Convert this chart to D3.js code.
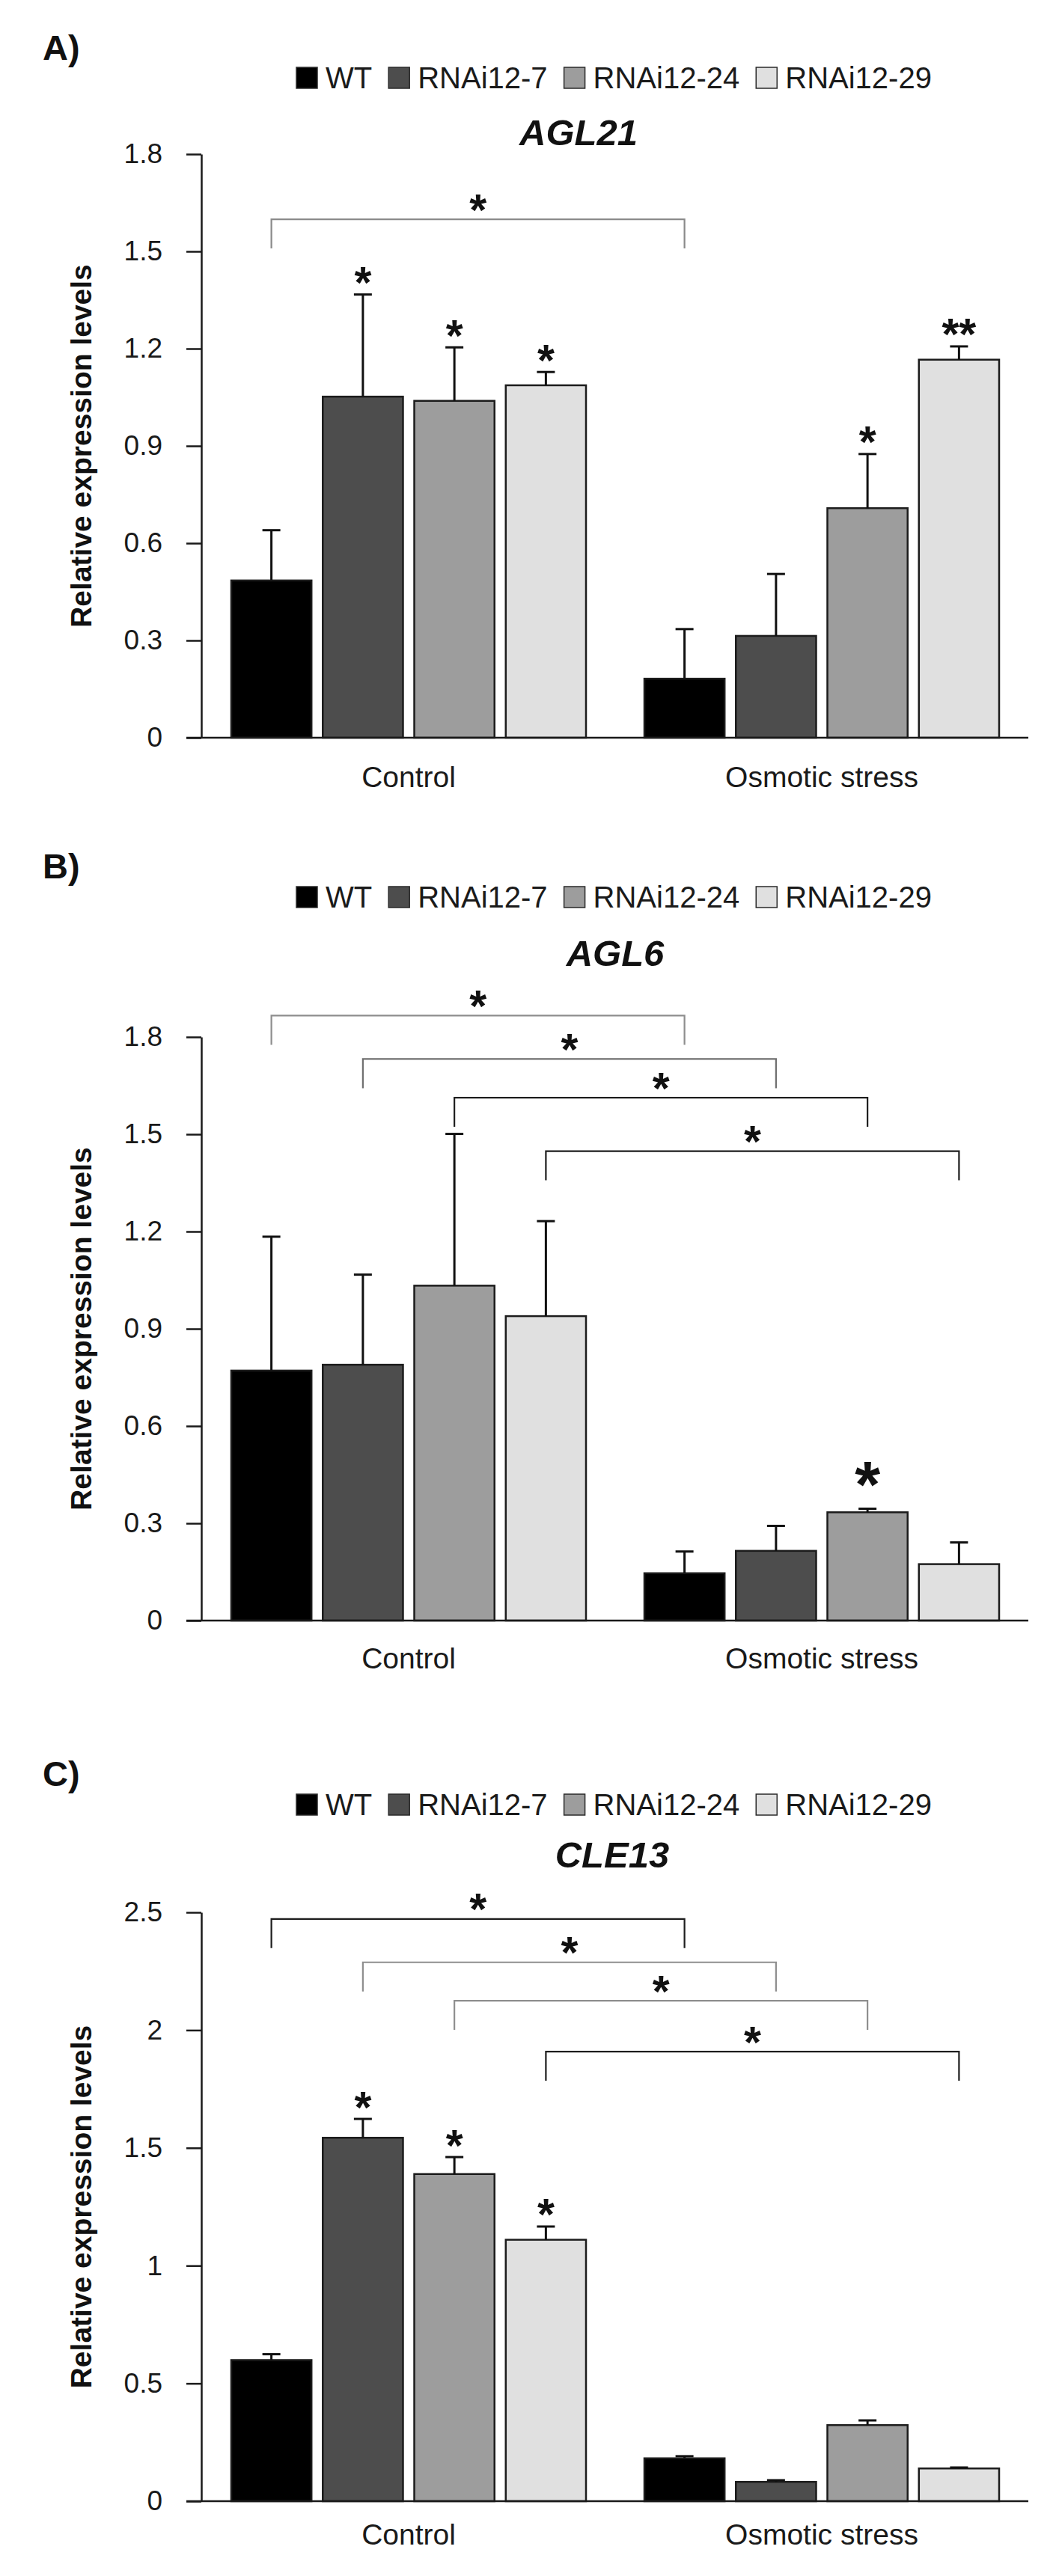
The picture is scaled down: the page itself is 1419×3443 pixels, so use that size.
<!DOCTYPE html>
<html>
<head>
<meta charset="utf-8">
<script src="https://cdn.jsdelivr.net/npm/d3@7"></script>
<style>
  html, body { margin: 0; padding: 0; background: #ffffff; }
  svg { display: block; font-family: "Liberation Sans", Arial, Helvetica, sans-serif; }
</style>
</head>
<body>
<script>
// ---------------- DATA ----------------
const categories = ["Control", "Osmotic stress"];
const series = ["WT", "RNAi12-7", "RNAi12-24", "RNAi12-29"];
const seriesColors = ["#000000", "#4d4d4d", "#9d9d9d", "#e0e0e0"];

// Panel A: AGL21
const agl21Control = [0.485, 1.052, 1.039, 1.087];
const agl21ControlErr = [0.155, 0.315, 0.165, 0.041];
const agl21Osmotic = [0.182, 0.314, 0.708, 1.166];
const agl21OsmoticErr = [0.153, 0.191, 0.167, 0.041];
const agl21Ticks = [0, 0.3, 0.6, 0.9, 1.2, 1.5, 1.8];
const agl21TickLabels = ["0", "0.3", "0.6", "0.9", "1.2", "1.5", "1.8"];
const agl21Stars = [
  { category: "Control", series: "RNAi12-7", label: "*" },
  { category: "Control", series: "RNAi12-24", label: "*" },
  { category: "Control", series: "RNAi12-29", label: "*" },
  { category: "Osmotic stress", series: "RNAi12-24", label: "*" },
  { category: "Osmotic stress", series: "RNAi12-29", label: "**" }
];
const agl21Brackets = [
  { from: ["Control", "WT"], to: ["Osmotic stress", "WT"], y: 1.599, label: "*" }
];

// Panel B: AGL6
const agl6Control = [0.771, 0.789, 1.033, 0.939];
const agl6ControlErr = [0.413, 0.278, 0.468, 0.293];
const agl6Osmotic = [0.146, 0.215, 0.334, 0.174];
const agl6OsmoticErr = [0.067, 0.077, 0.011, 0.067];
const agl6Ticks = [0, 0.3, 0.6, 0.9, 1.2, 1.5, 1.8];
const agl6TickLabels = ["0", "0.3", "0.6", "0.9", "1.2", "1.5", "1.8"];
const agl6Stars = [
  { category: "Osmotic stress", series: "RNAi12-24", label: "*", big: true }
];
const agl6Brackets = [
  { from: ["Control", "WT"], to: ["Osmotic stress", "WT"], y: 1.866, label: "*" },
  { from: ["Control", "RNAi12-7"], to: ["Osmotic stress", "RNAi12-7"], y: 1.732, label: "*" },
  { from: ["Control", "RNAi12-24"], to: ["Osmotic stress", "RNAi12-24"], y: 1.613, label: "*" },
  { from: ["Control", "RNAi12-29"], to: ["Osmotic stress", "RNAi12-29"], y: 1.448, label: "*" }
];

// Panel C: CLE13
const cle13Control = [0.599, 1.543, 1.389, 1.110];
const cle13ControlErr = [0.025, 0.080, 0.072, 0.056];
const cle13Osmotic = [0.182, 0.082, 0.323, 0.139];
const cle13OsmoticErr = [0.009, 0.007, 0.020, 0.004];
const cle13Ticks = [0, 0.5, 1, 1.5, 2, 2.5];
const cle13TickLabels = ["0", "0.5", "1", "1.5", "2", "2.5"];
const cle13Stars = [
  { category: "Control", series: "RNAi12-7", label: "*" },
  { category: "Control", series: "RNAi12-24", label: "*" },
  { category: "Control", series: "RNAi12-29", label: "*" }
];
const cle13Brackets = [
  { from: ["Control", "WT"], to: ["Osmotic stress", "WT"], y: 2.472, label: "*" },
  { from: ["Control", "RNAi12-7"], to: ["Osmotic stress", "RNAi12-7"], y: 2.288, label: "*" },
  { from: ["Control", "RNAi12-24"], to: ["Osmotic stress", "RNAi12-24"], y: 2.125, label: "*" },
  { from: ["Control", "RNAi12-29"], to: ["Osmotic stress", "RNAi12-29"], y: 1.909, label: "*" }
];

const panelLetters = ["A)", "B)", "C)"];
const geneNames = ["AGL21", "AGL6", "CLE13"];
const yAxisTitle = "Relative expression levels";

// ---------------- LAYOUT (styling only) ----------------
const W = 1419, H = 3443;
const layout = [
  { letterY: 80, legendY: 104, titleX: 773, titleY: 194, yTop: 206, yBottom: 986, catOffset: 66,
    bracketColors: ["#8a8a8a"] },
  { letterY: 1174, legendY: 1199, titleX: 822, titleY: 1291, yTop: 1386, yBottom: 2166, catOffset: 64,
    bracketColors: ["#8e8e8e", "#6f6f6f", "#1e1e1e", "#1e1e1e"] },
  { letterY: 2387, legendY: 2412, titleX: 818, titleY: 2496, yTop: 2556, yBottom: 3343, catOffset: 58,
    bracketColors: ["#1e1e1e", "#8e8e8e", "#8e8e8e", "#1e1e1e"] }
];
const axisX = 270, axisRight = 1374, tickLen = 20;
const ink = "#1a1a1a";
const FONT = "'Liberation Sans', Arial, sans-serif";

// Measure asterisk ink box so stars are placed by their visual centre
const mctx = document.createElement("canvas").getContext("2d");
mctx.font = `bold 100px ${FONT}`;
const mm = mctx.measureText("*");
const starAsc = (mm.actualBoundingBoxAscent || 71) / 100;
const starDesc = (mm.actualBoundingBoxDescent !== undefined ? mm.actualBoundingBoxDescent : -40) / 100;
const starInkW = ((mm.actualBoundingBoxLeft || 0) + (mm.actualBoundingBoxRight || 0)) / 100 || 0.33;
const starSize = w => w / starInkW;            // font size giving ink width w
const smallStar = starSize(23), bigStar = starSize(34);

const panels = [
  { control: agl21Control, controlErr: agl21ControlErr, osm: agl21Osmotic, osmErr: agl21OsmoticErr,
    ticks: agl21Ticks, tickLabels: agl21TickLabels, stars: agl21Stars, brackets: agl21Brackets },
  { control: agl6Control, controlErr: agl6ControlErr, osm: agl6Osmotic, osmErr: agl6OsmoticErr,
    ticks: agl6Ticks, tickLabels: agl6TickLabels, stars: agl6Stars, brackets: agl6Brackets },
  { control: cle13Control, controlErr: cle13ControlErr, osm: cle13Osmotic, osmErr: cle13OsmoticErr,
    ticks: cle13Ticks, tickLabels: cle13TickLabels, stars: cle13Stars, brackets: cle13Brackets }
];

const svg = d3.select("body").append("svg")
  .attr("width", W).attr("height", H).attr("viewBox", `0 0 ${W} ${H}`);
svg.append("rect").attr("width", W).attr("height", H).attr("fill", "#ffffff");

const x0 = d3.scaleBand().domain(categories).range([axisX, axisRight]).paddingInner(0).paddingOuter(0);
const x1 = d3.scaleBand().domain(series).range([0, x0.bandwidth()]).paddingInner(0.123).paddingOuter(0.319);
const color = d3.scaleOrdinal().domain(series).range(seriesColors);
const cx = (cat, s) => x0(cat) + x1(s) + x1.bandwidth() / 2;

function starText(g, x, cy, label, size) {
  // baseline such that the ink centre of the asterisk sits at cy
  const base = cy + size * (starAsc - starDesc) / 2;
  g.append("text")
    .attr("x", x).attr("y", base)
    .attr("text-anchor", "middle")
    .attr("font-size", size).attr("font-weight", "bold")
    .attr("font-family", FONT)
    .attr("fill", "#111")
    .text(label);
}

panels.forEach((p, pi) => {
  const L = layout[pi];
  const g = svg.append("g");
  const yMax = p.ticks[p.ticks.length - 1];
  const y = d3.scaleLinear().domain([0, yMax]).range([L.yBottom, L.yTop]);

  // Panel letter
  g.append("text").attr("x", 57).attr("y", L.letterY)
    .attr("font-size", 47).attr("font-weight", "bold").attr("fill", "#111")
    .text(panelLetters[pi]);

  // Legend
  let lx = 396;
  series.forEach((s) => {
    g.append("rect").attr("x", lx).attr("y", L.legendY - 14).attr("width", 28).attr("height", 28)
      .attr("fill", color(s)).attr("stroke", "#2a2a2a").attr("stroke-width", 1.5);
    const t = g.append("text").attr("x", lx + 39).attr("y", L.legendY + 14)
      .attr("font-size", 40).attr("fill", ink).text(s);
    const w = t.node().getComputedTextLength();
    lx = lx + 39 + w + 22;
  });

  // Title
  g.append("text").attr("x", L.titleX).attr("y", L.titleY)
    .attr("text-anchor", "middle").attr("font-size", 49)
    .attr("font-weight", "bold").attr("font-style", "italic").attr("fill", "#111")
    .text(geneNames[pi]);

  // Y axis
  const yAxis = d3.axisLeft(y).tickValues(p.ticks)
    .tickFormat((d, i) => p.tickLabels[i])
    .tickSize(tickLen).tickSizeOuter(0).tickPadding(32);
  const ya = g.append("g").attr("transform", `translate(${axisX - 1},0)`).call(yAxis);
  ya.select(".domain").attr("stroke", ink).attr("stroke-width", 2.5);
  ya.selectAll(".tick line").attr("stroke", ink).attr("stroke-width", 2.5);
  ya.selectAll(".tick text").attr("font-size", 37).attr("fill", ink).attr("font-family", FONT);

  // Y axis title
  g.append("text")
    .attr("transform", `translate(122,${(L.yTop + L.yBottom) / 2}) rotate(-90)`)
    .attr("text-anchor", "middle").attr("font-size", 39).attr("font-weight", "bold").attr("fill", "#111")
    .text(yAxisTitle);

  // Data rows
  const rows = [];
  series.forEach((s, si) => {
    rows.push({ category: categories[0], series: s, value: p.control[si], err: p.controlErr[si] });
    rows.push({ category: categories[1], series: s, value: p.osm[si], err: p.osmErr[si] });
  });

  // Bars
  g.selectAll("rect.bar").data(rows).enter().append("rect")
    .attr("class", "bar")
    .attr("x", d => x0(d.category) + x1(d.series))
    .attr("y", d => y(d.value))
    .attr("width", x1.bandwidth())
    .attr("height", d => y(0) - y(d.value))
    .attr("fill", d => color(d.series))
    .attr("stroke", "#1c1c1c").attr("stroke-width", 2.5);

  // Error bars (upper only)
  const eb = g.selectAll("g.err").data(rows).enter().append("g").attr("class", "err");
  eb.append("line")
    .attr("x1", d => cx(d.category, d.series)).attr("x2", d => cx(d.category, d.series))
    .attr("y1", d => y(d.value)).attr("y2", d => y(d.value + d.err))
    .attr("stroke", "#111").attr("stroke-width", 3);
  eb.append("line")
    .attr("x1", d => cx(d.category, d.series) - 12).attr("x2", d => cx(d.category, d.series) + 12)
    .attr("y1", d => y(d.value + d.err)).attr("y2", d => y(d.value + d.err))
    .attr("stroke", "#111").attr("stroke-width", 3);

  // X axis
  g.append("line").attr("x1", axisX - tickLen - 1).attr("x2", axisRight)
    .attr("y1", y(0)).attr("y2", y(0)).attr("stroke", ink).attr("stroke-width", 2.5);
  const xAxis = d3.axisBottom(x0).tickSize(0).tickPadding(L.catOffset - 28);
  const xa = g.append("g").attr("transform", `translate(0,${y(0)})`).call(xAxis);
  xa.select(".domain").remove();
  xa.selectAll(".tick text").attr("font-size", 39).attr("fill", ink).attr("font-family", FONT);

  // Stars above bars
  p.stars.forEach(st => {
    const r = rows.find(d => d.category === st.category && d.series === st.series);
    const top = y(r.value + r.err);
    if (st.big) starText(g, cx(st.category, st.series), top - 46, st.label, bigStar);
    else starText(g, cx(st.category, st.series), top - 25, st.label, smallStar);
  });

  // Brackets
  p.brackets.forEach((b, bi) => {
    const xa1 = cx(b.from[0], b.from[1]);
    const xb1 = cx(b.to[0], b.to[1]);
    const yy = y(b.y);
    const col = L.bracketColors[bi] || "#1e1e1e";
    g.append("path")
      .attr("d", `M${xa1},${yy + 39}V${yy}H${xb1}V${yy + 39}`)
      .attr("fill", "none").attr("stroke", col).attr("stroke-width", 2.2);
    starText(g, (xa1 + xb1) / 2, yy - 22, b.label, smallStar);
  });
});
</script>
</body>
</html>
